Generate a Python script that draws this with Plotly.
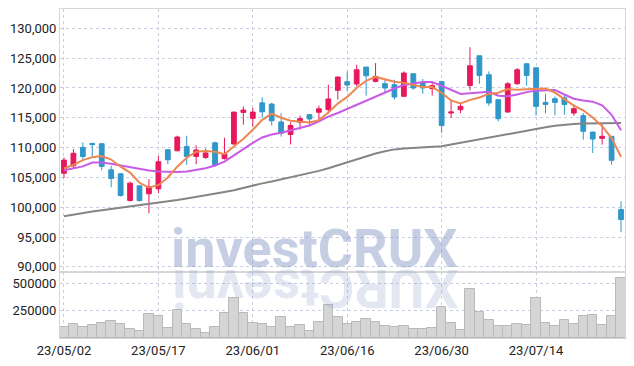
import plotly.graph_objects as go

dates = [
    "23/05/02", "23/05/03", "23/05/04", "23/05/08", "23/05/09", "23/05/10", "23/05/11", "23/05/12",
    "23/05/15", "23/05/16", "23/05/17", "23/05/18", "23/05/19", "23/05/22", "23/05/23", "23/05/24",
    "23/05/25", "23/05/26", "23/05/30", "23/05/31", "23/06/01", "23/06/02", "23/06/05", "23/06/07",
    "23/06/08", "23/06/09", "23/06/12", "23/06/13", "23/06/14", "23/06/15", "23/06/16", "23/06/19",
    "23/06/20", "23/06/21", "23/06/22", "23/06/23", "23/06/26", "23/06/27", "23/06/28", "23/06/29",
    "23/06/30", "23/07/03", "23/07/04", "23/07/05", "23/07/06", "23/07/07", "23/07/10", "23/07/11",
    "23/07/12", "23/07/13", "23/07/14", "23/07/17", "23/07/18", "23/07/19", "23/07/20", "23/07/21",
    "23/07/24", "23/07/25", "23/07/26", "23/07/27",
]

open_ = [105700, 106950, 110030, 110700, 110650, 106280, 105610, 101130, 103590, 102250,
         103090, 109640, 109470, 110200, 108520, 108350, 110800, 108150, 110600, 115900,
         114900, 117500, 117300, 114300, 112190, 114250, 115530, 115920, 116370, 119600,
         121050, 120660, 123500, 121100, 120710, 120540, 118600, 122380, 120930, 119880,
         121050, 115790, 116350, 120420, 125390, 122210, 118030, 115960, 120700, 124050,
         123380, 117580, 118190, 118360, 115790, 115350, 112610, 111550, 111890, 99610]
high = [108350, 109750, 110870, 110800, 110700, 106950, 105700, 104300, 103600, 104710,
        108630, 109700, 111990, 111990, 110400, 109850, 111000, 111650, 116000, 116900,
        116650, 118450, 117500, 115750, 114250, 115360, 115600, 117030, 120540, 121900,
        122770, 123890, 123500, 124160, 121380, 121380, 122770, 122400, 121490, 120990,
        121100, 118140, 117470, 126840, 125400, 122770, 118100, 120980, 123330, 124160,
        123400, 119030, 118580, 118860, 117190, 115790, 112650, 114120, 111900, 101010]
low = [104900, 106550, 107790, 108500, 106200, 103370, 101800, 100960, 100960, 99000,
       102360, 107230, 109360, 107120, 107200, 108100, 106800, 108000, 110500, 113850,
       113500, 115000, 113700, 111850, 110520, 113020, 113690, 114420, 115700, 118040,
       119430, 120270, 118710, 120930, 119150, 118040, 118500, 119700, 119040, 118710,
       112470, 114960, 115790, 119590, 120700, 117020, 114400, 115900, 120540, 120370,
       115350, 115790, 115400, 115510, 115350, 111330, 109100, 110490, 107140, 95820]
close = [107900, 109050, 108500, 110500, 106850, 104820, 101970, 104040, 101130, 103480,
         107620, 107960, 111770, 108520, 109600, 109100, 107000, 108950, 115950, 116300,
         115950, 116000, 114500, 112400, 113700, 114850, 114800, 116500, 118150, 121830,
         120490, 123050, 122050, 121940, 119990, 118480, 122500, 119990, 119990, 120380,
         113690, 115960, 116910, 123720, 122100, 117470, 114840, 120700, 123050, 122100,
         116910, 117240, 117580, 117240, 116520, 112720, 111440, 111890, 107870, 97940]

ma5 = [106500, 107100, 107900, 108400, 108600, 108000, 106800, 105800, 104100, 103300,
       103700, 105000, 106800, 108300, 109300, 109450, 109300, 108900, 110200, 111500,
       113000, 114650, 115700, 115000, 114500, 114300, 114200, 114600, 115900, 117400,
       118500, 120000, 121200, 121850, 121450, 121050, 120850, 120450, 120150, 120150,
       119200, 117900, 117400, 118000, 118400, 119000, 119200, 119800, 119700, 119800,
       119900, 119900, 119200, 118100, 117050, 116250, 115050, 113600, 111600, 108450]
ma20 = [106200, 106500, 106850, 107500, 107500, 107300, 107000, 106700, 106400, 106150,
        106000, 105900, 105900, 106000, 106250, 106550, 107000, 107650, 108700, 109800,
        110800, 111700, 112200, 112500, 112900, 113300, 113700, 114400, 115200, 115800,
        116500, 117100, 117800, 118600, 119300, 119900, 120500, 120800, 121000, 121000,
        120400, 119700, 119000, 119100, 119250, 119350, 118700, 118600, 118900, 119300,
        119550, 119650, 119650, 118900, 118200, 117900, 117700, 117100, 115500, 112900]
ma60 = [98500, 98800, 99050, 99300, 99500, 99700, 99900, 100100, 100300, 100500,
        100700, 100950, 101200, 101450, 101700, 101950, 102250, 102550, 102850, 103250,
        103700, 104000, 104300, 104650, 105000, 105350, 105700, 106100, 106550, 107050,
        107550, 108050, 108550, 109000, 109400, 109700, 109850, 109950, 110000, 110100,
        110230, 110500, 110800, 111050, 111330, 111650, 111950, 112250, 112550, 112850,
        113170, 113400, 113650, 113840, 113950, 114050, 114090, 114120, 114140, 114140]

volume = [97000, 124500, 97000, 115400, 136000, 151500, 124500, 79000, 63600, 215000,
          197000, 88000, 254500, 124500, 79000, 50000, 97000, 224500, 361000, 224500,
          133600, 124500, 97000, 193600, 97000, 115400, 63600, 142700, 297000, 193600,
          124500, 142700, 175500, 142700, 106000, 97000, 106000, 79000, 79000, 88000,
          279000, 133600, 70000, 443000, 233600, 161000, 106000, 106000, 124500, 115400,
          361000, 133600, 106000, 161000, 124500, 197000, 206000, 115400, 197000, 542000]

price_ticks = [90000, 95000, 100000, 105000, 110000, 115000, 120000, 125000, 130000]
volume_ticks = [250000, 500000]
date_ticks = dates[::10]

watermark = "investCRUX"

RED = "#e8185c"
BLUE = "#3097c9"
GRID = "#c9cde0"
AXIS = "#d6d6d6"
TICKFONT = dict(family="Roboto, sans-serif", size=13, color="#222222")

fig = go.Figure()

fig.add_trace(go.Scatter(x=dates, y=ma60, mode="lines", line=dict(color="#858585", width=2),
                         xaxis="x", yaxis="y", showlegend=False, hoverinfo="skip"))
fig.add_trace(go.Scatter(x=dates, y=ma20, mode="lines", line=dict(color="#c95ae6", width=2),
                         xaxis="x", yaxis="y", showlegend=False, hoverinfo="skip"))
fig.add_trace(go.Scatter(x=dates, y=ma5, mode="lines", line=dict(color="#ee8650", width=2),
                         xaxis="x", yaxis="y", showlegend=False, hoverinfo="skip"))

fig.add_trace(go.Candlestick(
    x=dates, open=open_, high=high, low=low, close=close,
    increasing=dict(line=dict(color=RED, width=1), fillcolor=RED),
    decreasing=dict(line=dict(color=BLUE, width=1), fillcolor=BLUE),
    whiskerwidth=0, xaxis="x", yaxis="y", showlegend=False,
))

fig.add_trace(go.Bar(x=dates, y=volume, marker=dict(color="#d5d5d5", line=dict(color="#b9b9b9", width=1)),
                     xaxis="x", yaxis="y2", showlegend=False))

split = 66 / 329

# The page body adds an 8px offset; the figure is sized/margined to compensate.
fig.update_layout(
    width=626, height=358,
    margin=dict(l=52, r=9, t=1, b=28),
    paper_bgcolor="white", plot_bgcolor="white",
    bargap=0, boxgap=0.28,
    font=dict(family="Roboto, sans-serif", size=13, color="#222222"),
    xaxis=dict(
        type="category", categoryorder="array", categoryarray=dates,
        range=[-0.42, len(dates) - 0.58], anchor="y2", automargin=False,
        tickmode="array", tickvals=date_ticks, ticktext=date_ticks,
        showgrid=True, gridcolor=GRID, griddash="dot", gridwidth=1,
        showline=True, linecolor=AXIS, linewidth=1, mirror="all",
        ticks="", tickfont=TICKFONT, rangeslider=dict(visible=False),
    ),
    yaxis=dict(
        domain=[split, 1], range=[89146, 133233], automargin=False,
        tickmode="array", tickvals=price_ticks, tickformat=",",
        showgrid=True, gridcolor=GRID, griddash="dot", gridwidth=1,
        showline=True, linecolor=AXIS, linewidth=1, mirror=True,
        ticks="", zeroline=False, tickfont=TICKFONT,
    ),
    yaxis2=dict(
        domain=[0, split], range=[0, 600000], automargin=False,
        tickmode="array", tickvals=volume_ticks, tickformat="d",
        showgrid=True, gridcolor=GRID, griddash="dot", gridwidth=1,
        showline=True, linecolor=AXIS, linewidth=1, mirror=True,
        ticks="", zeroline=False, tickfont=TICKFONT,
    ),
    annotations=[
        dict(text=watermark, xref="paper", yref="paper", x=0.451, y=0.273,
             xanchor="center", yanchor="middle", showarrow=False,
             font=dict(family="Roboto", size=54, color="rgba(140,158,200,0.5)", weight="bold")),
        dict(text=watermark[::-1], xref="paper", yref="paper", x=0.451, y=0.151,
             xanchor="center", yanchor="middle", showarrow=False, textangle=180,
             font=dict(family="Roboto", size=54, color="rgba(140,158,200,0.25)", weight="bold")),
    ],
)

fig.write_html("out.html")
